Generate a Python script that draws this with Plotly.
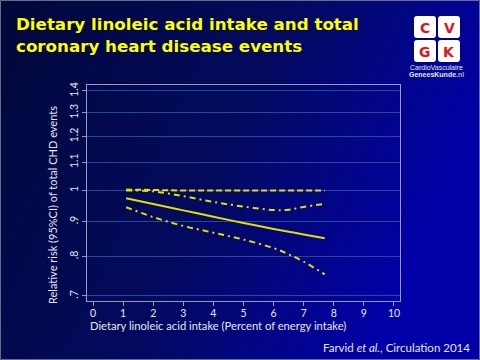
import base64
import plotly.graph_objects as go

# ---- data ----
intake = [1.1, 2, 3, 4, 5, 6, 6.5, 7, 7.7]
rr = [0.974, 0.955, 0.935, 0.915, 0.896, 0.878, 0.870, 0.862, 0.851]
upper_flat = [1.003, 1.001, 1.0, 1.0, 1.0, 1.0, 1.0, 1.0, 1.0]
upper_ci = [1.0, 0.997, 0.981, 0.962, 0.947, 0.936, 0.937, 0.946, 0.956]
lower_ci = [0.945, 0.914, 0.887, 0.867, 0.847, 0.823, 0.806, 0.786, 0.753]

y_ticks = [0.7, 0.8, 0.9, 1.0, 1.1, 1.2, 1.3, 1.4]
y_ticktext = [".7", ".8", ".9", "1", "1.1", "1.2", "1.3", "1.4"]
x_ticks = list(range(0, 11))

W, H = 480, 360
L, R, T, B = 87, 80, 85, 59
PW, PH = W - L - R, H - T - B


def px(x):
    return (x - L) / PW


def py(y):
    return (H - B - y) / PH


YEL = "#e8dc00"
fig = go.Figure()

fig.add_trace(go.Scatter(x=intake, y=upper_flat, mode="lines", line=dict(color=YEL, width=2, dash="6px,3px"), hoverinfo="skip"))
fig.add_trace(go.Scatter(x=intake, y=upper_ci, mode="lines", line=dict(color=YEL, width=2, dash="6px,4px,2px,4px", shape="spline"), hoverinfo="skip"))
fig.add_trace(go.Scatter(x=intake, y=rr, mode="lines", line=dict(color=YEL, width=2, shape="spline"), hoverinfo="skip"))
fig.add_trace(go.Scatter(x=intake, y=lower_ci, mode="lines", line=dict(color=YEL, width=2, dash="6px,4px,2px,4px", shape="spline"), hoverinfo="skip"))

svg = (
    '<svg xmlns="http://www.w3.org/2000/svg" width="480" height="360">'
    '<defs><linearGradient id="g" x1="0" y1="0" x2="1" y2="0.35">'
    '<stop offset="0" stop-color="#020839"/>'
    '<stop offset="0.55" stop-color="#030a5e"/>'
    '<stop offset="1" stop-color="#0000a8"/>'
    '</linearGradient></defs>'
    '<rect width="480" height="360" fill="url(#g)"/>'
    '</svg>'
)
src = "data:image/svg+xml;base64," + base64.b64encode(svg.encode()).decode()

frame = "#9a9ac0"
fig.update_layout(
    width=W, height=H,
    margin=dict(l=L, r=R, t=T, b=B),
    paper_bgcolor="#020839",
    plot_bgcolor="rgba(0,0,40,0.35)",
    showlegend=False,
    images=[dict(source=src, xref="paper", yref="paper", x=px(0), y=py(0),
                 sizex=W / PW, sizey=H / PH, xanchor="left", yanchor="top",
                 sizing="stretch", layer="below")],
    xaxis=dict(range=[-0.2, 10.2], tickvals=x_ticks, showgrid=False, zeroline=False,
               showline=True, mirror=True, linecolor=frame, linewidth=1,
               ticks="outside", ticklen=4, tickcolor=frame, ticklabelstandoff=-2,
               tickfont=dict(family="Lato", size=10.5, color="#e6e6ee")),
    yaxis=dict(type="log", range=[-0.1623, 0.1549], tickvals=y_ticks, ticktext=y_ticktext,
               tickangle=-90, showgrid=True, gridcolor="#1c4a9e", gridwidth=1, zeroline=False,
               showline=True, mirror=True, linecolor=frame, linewidth=1,
               ticks="outside", ticklen=4, tickcolor=frame,
               tickfont=dict(family="Lato", size=10.5, color="#e6e6ee")),
)

ann = []
ann.append(dict(text="Dietary linoleic acid intake and total<br>coronary heart disease events",
                x=px(14), y=py(12), xref="paper", yref="paper", xanchor="left", yanchor="top",
                align="left", showarrow=False,
                font=dict(family="DejaVu Sans", size=16.7, color="#ffff00", weight="bold")))
ann.append(dict(text="Relative risk (95%CI) of total CHD events", textangle=-90,
                x=px(52), y=py(205), xref="paper", yref="paper", xanchor="center", yanchor="middle",
                showarrow=False, font=dict(family="Lato", size=11, color="#e6e6ee")))
ann.append(dict(text="Dietary linoleic acid intake (Percent of energy intake)",
                x=px(88), y=py(325), xref="paper", yref="paper", xanchor="left", yanchor="middle",
                showarrow=False, font=dict(family="Lato", size=11.2, color="#e6e6ee")))
ann.append(dict(text="Farvid <i>et al.</i>, Circulation 2014",
                x=px(472), y=py(347), xref="paper", yref="paper", xanchor="right", yanchor="middle",
                showarrow=False, font=dict(family="Lato", size=11.5, color="#e6e6ee")))

# logo
shapes = []
r = 3
for (x0, y0) in [(414, 16), (438, 16), (414, 40), (438, 40)]:
    x1, y1 = x0 + 22, y0 + 22
    X0, X1, Y0, Y1 = px(x0), px(x1), py(y0), py(y1)
    rx, ry = r / PW, r / PH
    path = (f"M{X0+rx},{Y0} L{X1-rx},{Y0} Q{X1},{Y0} {X1},{Y0-ry} L{X1},{Y1+ry} "
            f"Q{X1},{Y1} {X1-rx},{Y1} L{X0+rx},{Y1} Q{X0},{Y1} {X0},{Y1+ry} "
            f"L{X0},{Y0-ry} Q{X0},{Y0} {X0+rx},{Y0} Z")
    shapes.append(dict(type="path", path=path, xref="paper", yref="paper",
                       fillcolor="white", line=dict(width=0), layer="above"))
for ch, cx, cy in [("C", 425, 27.5), ("V", 449, 27.5), ("G", 425, 51.5), ("K", 449, 51.5)]:
    ann.append(dict(text=ch, x=px(cx), y=py(cy), xref="paper", yref="paper",
                    xanchor="center", yanchor="middle", showarrow=False,
                    font=dict(family="DejaVu Sans", size=14, color="#e0141c", weight="bold")))
ann.append(dict(text="CardioVasculaire", x=px(436.5), y=py(67), xref="paper", yref="paper",
                xanchor="center", yanchor="middle", showarrow=False,
                font=dict(family="Liberation Sans", size=7, color="#e8e8f0")))
ann.append(dict(text="GeneesKunde<span style='color:#b0b0c8'>.nl</span>", x=px(436.5), y=py(74),
                xref="paper", yref="paper", xanchor="center", yanchor="middle", showarrow=False,
                font=dict(family="Liberation Sans", size=7, color="#e8e8f0", weight="bold")))

shapes.append(dict(type="rect", xref="paper", yref="paper", x0=px(0.5), x1=px(479.5), y0=py(0.5), y1=py(359.5),
                   line=dict(color="#6a6a8a", width=1), layer="above"))

fig.update_layout(annotations=ann, shapes=shapes)
fig.write_html("out.html", config={"displayModeBar": False},
               post_script="document.body.style.margin='0';document.body.style.background='#020839';")
